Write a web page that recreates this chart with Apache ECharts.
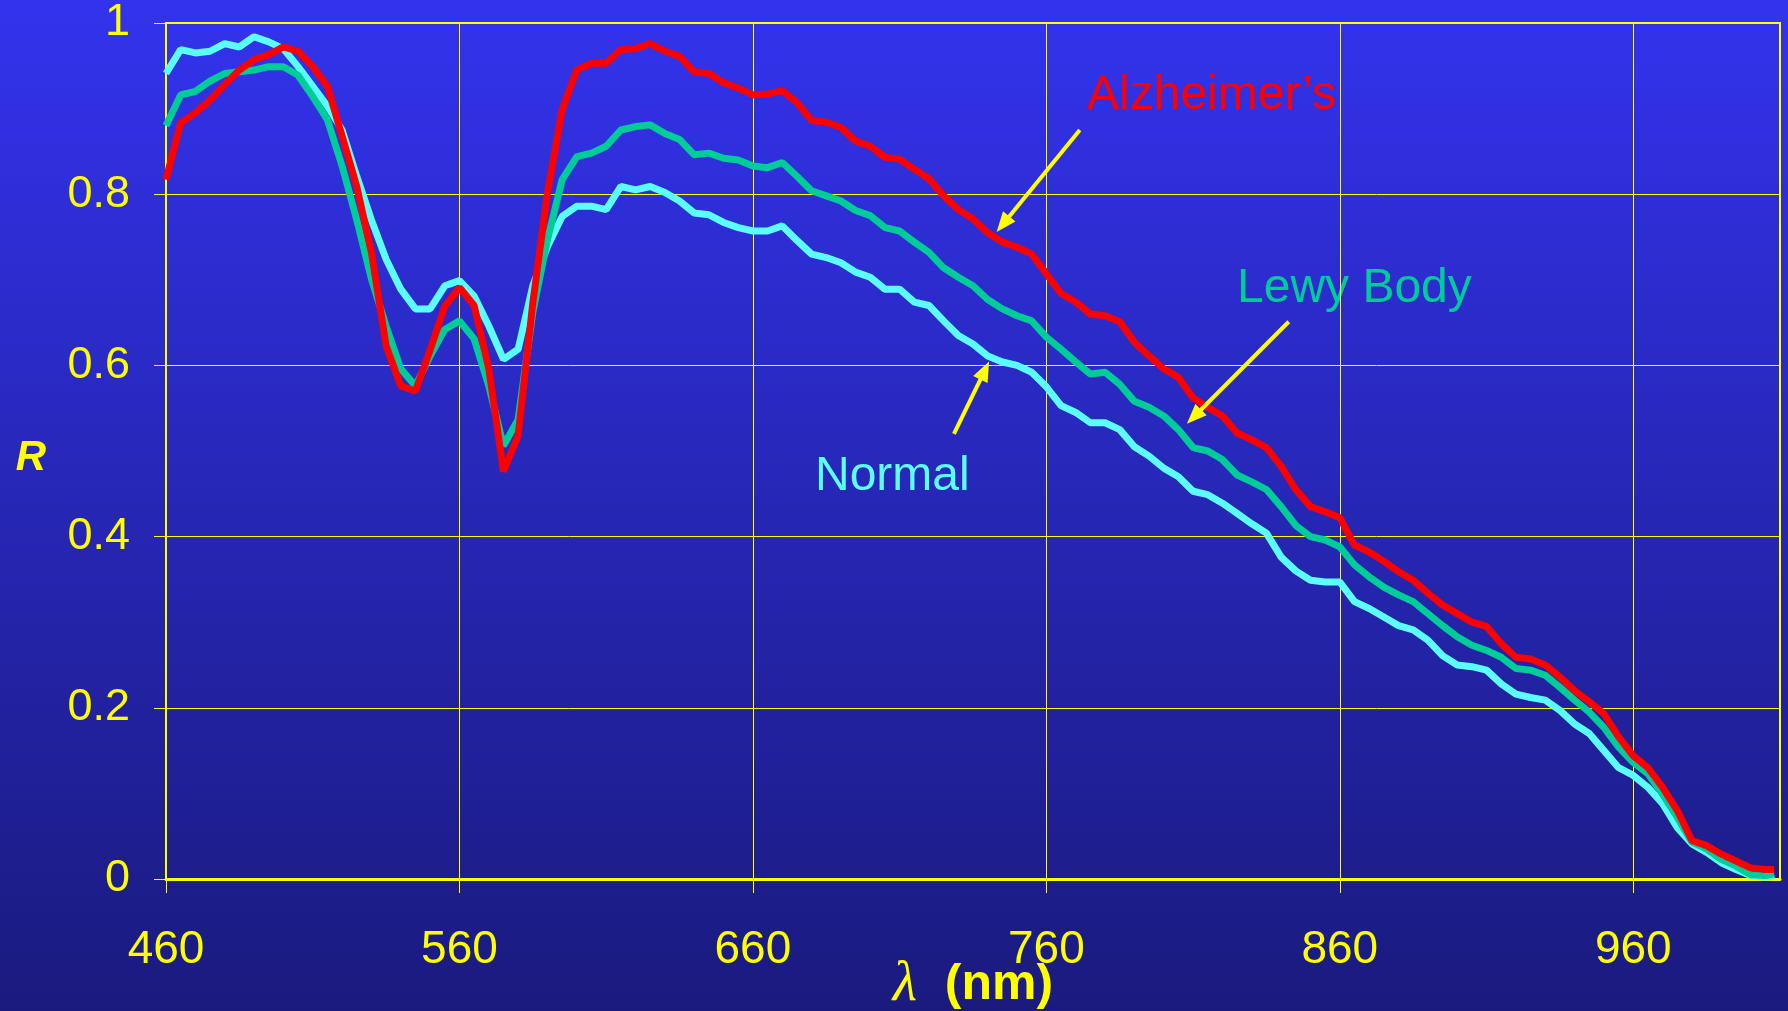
<!DOCTYPE html>
<html>
<head>
<meta charset="utf-8">
<script src="https://cdn.jsdelivr.net/npm/echarts@6/dist/echarts.min.js"></script>
<style>
  html, body { margin: 0; padding: 0; }
  #chart { width: 1788px; height: 1011px; }
</style>
</head>
<body>
<div id="chart"></div>
<script>
// wavelength (nm), 5 nm steps
var wavelength = [];
for (var w = 460; w <= 1005; w += 5) wavelength.push(w);
wavelength.push(1008);

// reflectance R, Normal
var normal = [
  0.941,0.969,0.965,0.967,0.976,0.972,0.984,0.978,0.970,0.949,0.926,0.903,0.875,0.821,0.770,0.724,0.689,0.666,0.666,0.693,
  0.699,0.681,0.646,0.607,0.619,0.693,0.739,0.774,0.786,0.786,0.782,0.809,0.805,0.809,0.802,0.792,0.778,0.776,0.767,0.761,
  0.757,0.757,0.763,0.746,0.730,0.726,0.720,0.709,0.703,0.689,0.689,0.674,0.670,0.652,0.635,0.625,0.611,0.604,0.600,0.592,
  0.575,0.553,0.545,0.533,0.533,0.525,0.505,0.494,0.480,0.470,0.453,0.449,0.439,0.427,0.415,0.404,0.376,0.360,0.349,0.347,
  0.347,0.324,0.316,0.306,0.296,0.291,0.279,0.261,0.250,0.248,0.244,0.228,0.216,0.212,0.209,0.197,0.181,0.170,0.150,0.130,
  0.121,0.107,0.088,0.060,0.041,0.031,0.019,0.011,0.004,0.002,0.004
];
// reflectance R, Lewy Body
var lewy = [
  0.880,0.916,0.920,0.932,0.941,0.943,0.945,0.949,0.949,0.939,0.914,0.887,0.833,0.770,0.701,0.646,0.596,0.576,0.611,0.642,
  0.652,0.631,0.576,0.506,0.537,0.662,0.747,0.817,0.844,0.848,0.856,0.875,0.879,0.881,0.871,0.864,0.846,0.848,0.842,0.840,
  0.833,0.831,0.837,0.821,0.804,0.798,0.792,0.781,0.775,0.761,0.757,0.744,0.732,0.714,0.703,0.693,0.677,0.666,0.658,0.652,
  0.633,0.619,0.604,0.590,0.592,0.578,0.558,0.551,0.541,0.525,0.504,0.500,0.490,0.472,0.464,0.455,0.435,0.413,0.400,0.396,
  0.388,0.367,0.353,0.341,0.332,0.324,0.310,0.296,0.283,0.273,0.267,0.259,0.246,0.244,0.238,0.224,0.209,0.195,0.177,0.154,
  0.136,0.123,0.099,0.072,0.043,0.035,0.023,0.015,0.005,0.004,0.006
];
// reflectance R, Alzheimer's
var alz = [
  0.817,0.883,0.895,0.910,0.928,0.945,0.957,0.963,0.972,0.967,0.949,0.926,0.868,0.809,0.732,0.623,0.576,0.570,0.618,0.669,
  0.691,0.670,0.596,0.476,0.518,0.673,0.802,0.899,0.945,0.953,0.953,0.969,0.970,0.976,0.967,0.961,0.943,0.941,0.930,0.924,
  0.916,0.917,0.921,0.907,0.886,0.884,0.878,0.862,0.856,0.843,0.841,0.829,0.818,0.798,0.782,0.771,0.755,0.744,0.738,0.730,
  0.707,0.684,0.674,0.660,0.658,0.651,0.627,0.611,0.596,0.586,0.562,0.551,0.541,0.521,0.513,0.504,0.482,0.455,0.435,0.429,
  0.422,0.390,0.382,0.371,0.359,0.349,0.334,0.320,0.310,0.300,0.295,0.275,0.259,0.257,0.250,0.236,0.220,0.207,0.193,0.166,
  0.144,0.130,0.107,0.080,0.045,0.039,0.029,0.021,0.013,0.011,0.011
];

// arrows pointing at the curves: [from, to] in (nm, R)
var arrows = [
  [[771.4, 0.875], [745.2, 0.765]],
  [[842.6, 0.651], [810.3, 0.540]],
  [[728.5, 0.520], [739.0, 0.594]]
];

function pairs(ys) {
  return wavelength.map(function (x, i) { return [x, ys[i]]; });
}

var chart = echarts.init(document.getElementById('chart'));
var yellow = '#FFFF00';
var font = 'Liberation Sans, Arial, sans-serif';

var option = {
  animation: false,
  backgroundColor: new echarts.graphic.LinearGradient(0, 0, 0, 1, [
    { offset: 0, color: '#3333EE' },
    { offset: 1, color: '#1A1A7E' }
  ]),
  grid: {
    left: 166, right: 8, top: 23, bottom: 132,
    containLabel: false, outerBoundsMode: 'none',
    show: true, borderColor: yellow, borderWidth: 2, backgroundColor: 'transparent'
  },
  xAxis: {
    type: 'value',
    min: 460, max: 1010, interval: 100,
    name: '{l|λ}{b|  (nm)}',
    nameLocation: 'middle',
    nameGap: 78,
    nameMoveOverlap: false,
    nameTextStyle: {
      rich: {
        l: { fontFamily: 'Liberation Serif, serif', fontStyle: 'italic', fontSize: 56, color: yellow },
        b: { fontFamily: font, fontWeight: 'bold', fontSize: 50, color: yellow }
      }
    },
    axisLine: { onZero: false, lineStyle: { color: yellow, width: 3 } },
    axisTick: { show: true, length: 14, lineStyle: { color: yellow, width: 1 } },
    axisLabel: { color: yellow, fontSize: 46, fontFamily: font, margin: 48, showMaxLabel: false },
    splitLine: { show: true, lineStyle: { color: yellow, width: 1 } }
  },
  yAxis: {
    type: 'value',
    min: 0, max: 1, interval: 0.2,
    name: '{r|R}',
    nameLocation: 'middle',
    nameRotate: 0,
    nameGap: 120,
    nameMoveOverlap: false,
    nameTextStyle: {
      rich: {
        r: {
          color: yellow, fontSize: 42, fontWeight: 'bold', fontStyle: 'italic', fontFamily: font,
          padding: [14, 0, 0, 0]
        }
      }
    },
    axisLine: { show: true, lineStyle: { color: yellow, width: 2 } },
    axisTick: { show: true, length: 12, lineStyle: { color: yellow, width: 1 } },
    axisLabel: { color: yellow, fontSize: 45, fontFamily: font, margin: 36 },
    splitLine: { show: true, lineStyle: { color: yellow, width: 1 } }
  },
  series: [
    {
      name: 'Normal', type: 'line', data: pairs(normal),
      showSymbol: false, lineStyle: { color: '#5CFFFF', width: 7 }
    },
    {
      name: 'Lewy Body', type: 'line', data: pairs(lewy),
      showSymbol: false, lineStyle: { color: '#00CC99', width: 7 }
    },
    {
      name: "Alzheimer's", type: 'line', data: pairs(alz),
      showSymbol: false, lineStyle: { color: '#FF0000', width: 7 },
      markLine: {
        silent: true,
        symbol: ['none', 'triangle'],
        symbolSize: [16, 20],
        label: { show: false },
        lineStyle: { color: yellow, width: 4, type: 'solid' },
        data: arrows.map(function (a) {
          return [{ coord: a[0] }, { coord: a[1] }];
        })
      }
    }
  ],
  graphic: [
    { type: 'text', left: 1087, top: 72, style: { text: 'Alzheimer’s', fill: '#FF0000', font: '48px ' + font } },
    { type: 'text', left: 1237, top: 265, style: { text: 'Lewy Body', fill: '#00CC99', font: '48px ' + font } },
    { type: 'text', left: 815, top: 453, style: { text: 'Normal', fill: '#5CFFFF', font: '48px ' + font } }
  ]
};

chart.setOption(option);
</script>
</body>
</html>
